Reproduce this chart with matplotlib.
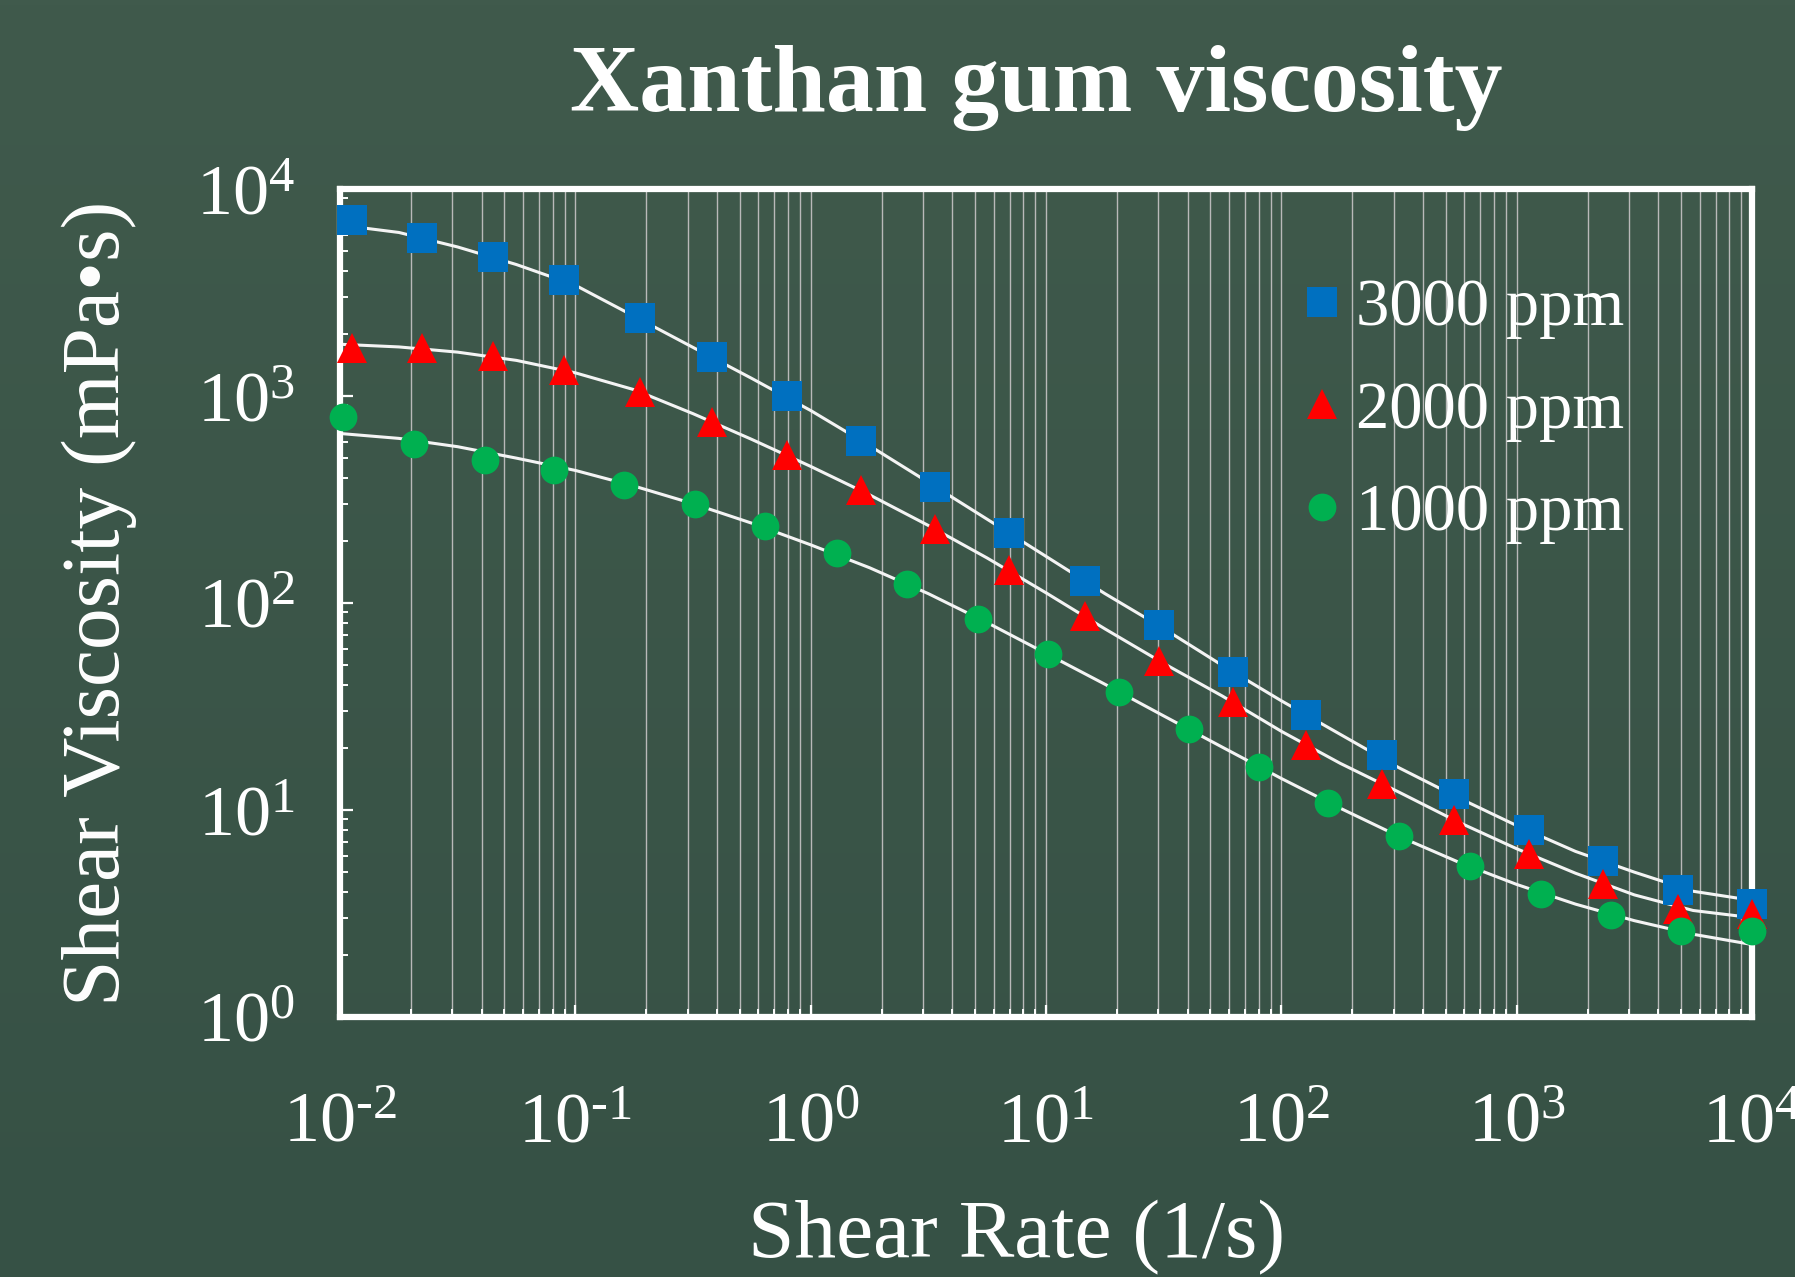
import numpy as np
import matplotlib.pyplot as plt
from matplotlib.ticker import NullFormatter, LogLocator, FuncFormatter

plt.rcParams["font.family"] = ["Liberation Serif", "DejaVu Serif"]
plt.rcParams["mathtext.fontset"] = "custom"
plt.rcParams["mathtext.rm"] = "Liberation Serif"
plt.rcParams["axes.unicode_minus"] = False

# measured points (shear rate 1/s, viscosity mPa.s)
rate_3000 = [0.0113, 0.0224, 0.0449, 0.0899, 0.188, 0.382, 0.791, 1.64, 3.39, 6.95,
             14.6, 30.1, 62.5, 127, 268, 543, 1125, 2330, 4830, 10000]
visc_3000 = [7080, 5810, 4700, 3630, 2370, 1545, 998, 607, 365, 219,
             128, 78.0, 46.2, 28.9, 18.4, 11.9, 8.0, 5.65, 4.09, 3.52]

rate_2000 = [0.0113, 0.0224, 0.0449, 0.0899, 0.188, 0.382, 0.791, 1.64, 3.39, 6.95,
             14.6, 30.1, 62.5, 127, 268, 543, 1125, 2330, 4830, 10000]
visc_2000 = [1700, 1700, 1563, 1333, 1042, 745, 520, 351, 227, 144,
             86.3, 52.6, 33.2, 20.5, 13.4, 8.91, 6.15, 4.41, 3.33, 3.16]

rate_1000 = [0.0103, 0.0207, 0.0415, 0.0813, 0.161, 0.323, 0.638, 1.29, 2.56, 5.13,
             10.2, 20.4, 40.4, 80.0, 158, 317, 635, 1273, 2518, 4990, 10000]
visc_1000 = [793, 589, 493, 438, 371, 302, 236, 174, 123, 84.1,
             56.8, 37.2, 24.5, 16.1, 10.8, 7.45, 5.35, 3.94, 3.10, 2.59, 2.59]

fit_rate = [0.01, 0.0178, 0.0316, 0.0562, 0.1, 0.178, 0.316, 0.562, 1, 1.78, 3.16, 5.62,
            10, 17.8, 31.6, 56.2, 100, 178, 316, 562, 1000, 1778, 3162, 5623, 10000]
fit_3000 = [6700, 6166, 5248, 4315, 3428, 2427, 1718, 1216, 851, 575, 383, 254,
            168, 111, 75.3, 49.9, 33.7, 23.2, 16.0, 11.5, 8.41, 6.31, 5.01, 4.05, 3.66]
fit_2000 = [1778, 1726, 1629, 1486, 1294, 1072, 822, 617, 457, 333, 237, 165,
            112, 75.0, 51.1, 35.5, 24.0, 16.8, 12.2, 8.77, 6.50, 4.95, 3.89, 3.27, 3.02]
fit_1000 = [659, 624, 569, 501, 437, 367, 302, 243, 191, 148, 111, 80.4,
            57.1, 40.5, 28.5, 20.1, 14.2, 10.2, 7.46, 5.62, 4.37, 3.51, 2.92, 2.51, 2.24]

labels = ["3000 ppm", "2000 ppm", "1000 ppm"]
colors = ["#0070C0", "#FF0000", "#00B050"]


def pow10_label(v, pos):
    e = int(round(np.log10(v)))
    if e < 0:
        return r"$\mathdefault{10^{\text{-}%d}}$" % (-e)
    return r"$\mathdefault{10^{%d}}$" % e


W, H = 1795, 1277
fig = plt.figure(figsize=(W / 100, H / 100), dpi=100)

# vertical background gradient
bg = fig.add_axes([0, 0, 1, 1], zorder=-10)
top = np.array([64, 90, 76]) / 255
bot = np.array([54, 81, 69]) / 255
t = np.linspace(0, 1, 256)[:, None, None]
grad = top * (1 - t) + bot * t
bg.imshow(np.repeat(grad, 2, axis=1), aspect="auto", extent=[0, 1, 0, 1])
bg.axis("off")

ax = fig.add_axes([340 / W, 1 - 1017 / H, 1412 / W, 828 / H])
ax.patch.set_alpha(0)
ax.set_xscale("log")
ax.set_yscale("log")
ax.set_xlim(1e-2, 1e4)
ax.set_ylim(1, 1e4)

ax.xaxis.set_major_locator(LogLocator(base=10, numticks=20))
ax.xaxis.set_minor_locator(LogLocator(base=10, subs=np.arange(2, 10), numticks=20))
ax.xaxis.set_major_formatter(FuncFormatter(pow10_label))
ax.yaxis.set_major_formatter(FuncFormatter(pow10_label))
ax.xaxis.set_minor_formatter(NullFormatter())
ax.yaxis.set_minor_formatter(NullFormatter())

ax.xaxis.grid(True, which="both", color="#b9b9b9", lw=1.0)
ax.set_axisbelow(True)

for s in ax.spines.values():
    s.set_color("white")
    s.set_linewidth(4.5)

ax.tick_params(which="both", direction="in", color="white", labelcolor="white",
               top=False, right=False)
ax.tick_params(which="major", length=9, width=1.6, labelsize=52)
ax.tick_params(which="minor", length=6, width=1.4)
ax.tick_params(axis="x", which="major", pad=54)
ax.tick_params(axis="y", which="major", pad=32)

for fx, fy in [(fit_rate, fit_3000), (fit_rate, fit_2000), (fit_rate, fit_1000)]:
    ax.plot(fx, fy, color="#f4f4f4", lw=2.2, zorder=2)

ax.plot(rate_3000, visc_3000, "s", ms=22, color=colors[0], mew=0, label=labels[0],
        zorder=3, clip_on=False)
ax.plot(rate_2000, visc_2000, "^", ms=21, color=colors[1], mew=0, label=labels[1],
        zorder=3, clip_on=False)
ax.plot(rate_1000, visc_1000, "o", ms=20, color=colors[2], mew=0, label=labels[2],
        zorder=3, clip_on=False)

leg = ax.legend(loc="upper left", bbox_to_anchor=(0.672, 0.892), frameon=False,
                fontsize=48, handlelength=1.0, handletextpad=0.0, borderpad=0,
                borderaxespad=0, labelspacing=0.62, numpoints=1)
for txt in leg.get_texts():
    txt.set_color("white")

ax.set_xlabel("Shear Rate (1/s)", fontsize=60, color="white")
ax.xaxis.set_label_coords(0.479, -0.221)
ax.set_ylabel("Shear Viscosity (mPa\u2022s)", fontsize=60, color="white")
ax.yaxis.set_label_coords(-0.144, 0.5)

fig.text(1036 / W, 1 - 111 / H, "Xanthan gum viscosity", ha="center", va="baseline",
         fontsize=69, fontweight="bold", color="white")

fig.savefig("out.png", dpi=100)
